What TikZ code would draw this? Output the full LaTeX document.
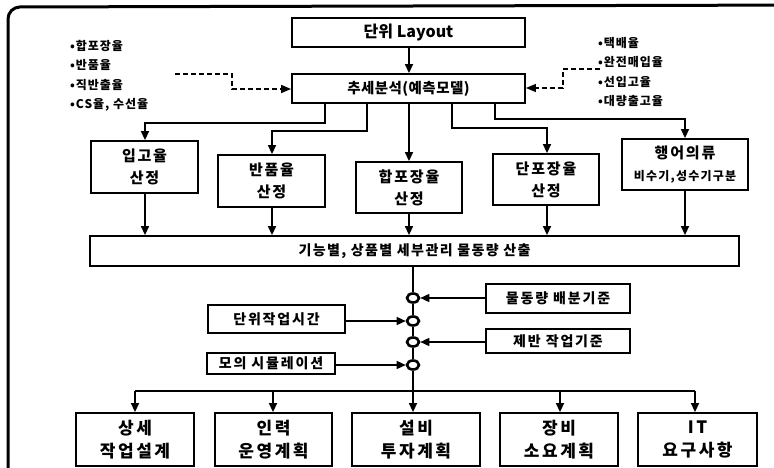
\documentclass[tikz,border=0pt]{standalone}
\usepackage{fontspec}
\setmainfont{Noto Sans CJK KR}
\usetikzlibrary{arrows.meta,positioning,calc,shapes.geometric}
\newcommand{\kf}[3]{\bfseries\fontsize{#1}{#2}\selectfont\addfontfeature{LetterSpace=#3}}
\tikzset{
  box/.style={draw, line width=1.8pt, minimum width=#1, inner sep=0pt, align=center, font=\kf{15}{22}{12}},
  bigbox/.style={draw, line width=1.8pt, minimum width=#1, inner sep=0pt, align=center, font=\kf{17}{23}{15}},
  sidebox/.style={draw, line width=1.8pt, minimum width=#1, inner sep=0pt, align=center, font=\kf{14}{18}{13}},
  conn/.style={line width=1.4pt, -{Triangle[length=9pt,width=8pt]}},
  dconn/.style={line width=1.4pt, dash pattern=on 5pt off 3pt, -{Triangle[length=10pt,width=8pt]}},
  ring/.style={draw, line width=2.6pt, ellipse, minimum width=12pt, minimum height=9pt, inner sep=0pt},
  bullets/.style={align=left, inner sep=0pt, font=\kf{12}{19.5}{8}},
}
\begin{document}
\begin{tikzpicture}[x=1pt,y=-1pt]
\useasboundingbox (0,0) rectangle (774,468);
% outer frame
\begin{scope}
\clip (0,0) rectangle (774,468);
\draw[line width=3pt, rounded corners=12pt] (8,520) -- (8,7) -- (820,5);
\end{scope}

% top boxes
\node[box=233pt, minimum height=29pt, font=\kf{16}{18}{0}] (layout) at (408.5,32.5) {단위 Layout};
\node[box=233pt, minimum height=29pt, font=\kf{14.5}{18}{3}] (trend) at (408.5,88.5) {추세분석(예측모델)};

% bullet lists
\node[bullets, anchor=north west] (lb) at (70,40) {•합포장율\\•반품율\\•직반출율\\•CS율, 수선율};
\node[bullets, anchor=north west] (rb) at (598,37) {•택배율\\•완전매입율\\•선입고율\\•대량출고율};
\coordinate (ld) at (175,74);
\coordinate (rd) at (600,69);
\draw[dconn] (ld) -- (232,74) -- (232,89) -- (trend.west |- 0,89);
\draw[dconn] (rd) -- (563,69) -- (563,88) -- (trend.east |- 0,88);

% second row
\node[box=107pt, minimum height=52pt] (ipgo) at (144.5,167) {입고율\\산정};
\node[box=107pt, minimum height=52pt] (banpum) at (271.5,181) {반품율\\산정};
\node[box=106pt, minimum height=51pt] (hap) at (409,187.5) {합포장율\\산정};
\node[box=106pt, minimum height=51pt] (dan) at (546,179.5) {단포장율\\산정};
\node[box=126pt, minimum height=51pt] (hanger) at (685,164.5) {행어의류\\{\kf{12}{16}{10}비수기,성수기구분}};

\draw[conn] (layout.south -| 409,0) -- (trend.north -| 409,0);
\draw[conn] (trend.south -| 325,0) -- (325,123) -- (145,123) -- (ipgo.north -| 145,0);
\draw[conn] (trend.south -| 367,0) -- (367,131) -- (272,131) -- (banpum.north -| 272,0);
\draw[conn] (trend.south -| 409,0) -- (hap.north -| 409,0);
\draw[conn] (trend.south -| 452,0) -- (452,128) -- (547,128) -- (dan.north -| 547,0);
\draw[conn] (trend.south -| 495,0) -- (495,119) -- (685,119) -- (hanger.north -| 685,0);

% bar
\node[box=649pt, minimum height=30pt, font=\kf{14}{18}{10}] (bar) at (414.5,251) {기능별, 상품별 세부관리 물동량 산출};
\draw[conn] (ipgo.south -| 145,0) -- (bar.north -| 145,0);
\draw[conn] (banpum.south -| 272,0) -- (bar.north -| 272,0);
\draw[conn] (hap.south -| 409,0) -- (bar.north -| 409,0);
\draw[conn] (dan.south -| 547,0) -- (bar.north -| 547,0);
\draw[conn] (hanger.south -| 685,0) -- (bar.north -| 685,0);

% rings
\node[ring] (c1) at (413,298) {};
\node[ring] (c2) at (413,321) {};
\node[ring] (c3) at (413,342) {};
\node[ring] (c4) at (413,365) {};
\coordinate (split) at (413,391);

% side boxes
\node[sidebox=144pt, minimum height=29pt] (mul) at (558,298.5) {물동량 배분기준};
\node[sidebox=137pt, minimum height=28pt] (unit) at (276.5,319) {단위작업시간};
\node[sidebox=144pt, minimum height=24pt] (jeban) at (558,341) {제반 작업기준};
\node[sidebox=128pt, minimum height=21pt] (sim) at (271,363.5) {모의 시뮬레이션};

\draw[line width=1.4pt] (bar.south -| 413,0) -- (c1) -- (c2) -- (c3) -- (c4) -- (split);
\draw[conn] (mul.west |- c1) -- (c1.east);
\draw[conn] (unit.east |- c2) -- (c2.west);
\draw[conn] (jeban.west |- c3) -- (c3.east);
\draw[conn] (sim.east |- c4) -- (c4.west);

% bottom boxes
\node[bigbox=118pt, minimum height=53pt] (b1) at (135,439.5) {상세\\작업설계};
\node[bigbox=117pt, minimum height=53pt] (b2) at (273.5,439.5) {인력\\운영계획};
\node[bigbox=128pt, minimum height=53pt] (b3) at (416,439.5) {설비\\투자계획};
\node[bigbox=118pt, minimum height=53pt] (b4) at (559,439.5) {장비\\소요계획};
\node[bigbox=119pt, minimum height=53pt] (b5) at (697.5,439.5) {IT\\요구사항};

\draw[line width=1.4pt] (135,391) -- (695,391);
\draw[conn] (split -| 135,0) -- (b1.north -| 135,0);
\draw[conn] (split -| 273,0) -- (b2.north -| 273,0);
\draw[conn] (split) -- (b3.north -| 413,0);
\draw[conn] (split -| 560,0) -- (b4.north -| 560,0);
\draw[conn] (split -| 695,0) -- (b5.north -| 695,0);
\end{tikzpicture}
\end{document}
